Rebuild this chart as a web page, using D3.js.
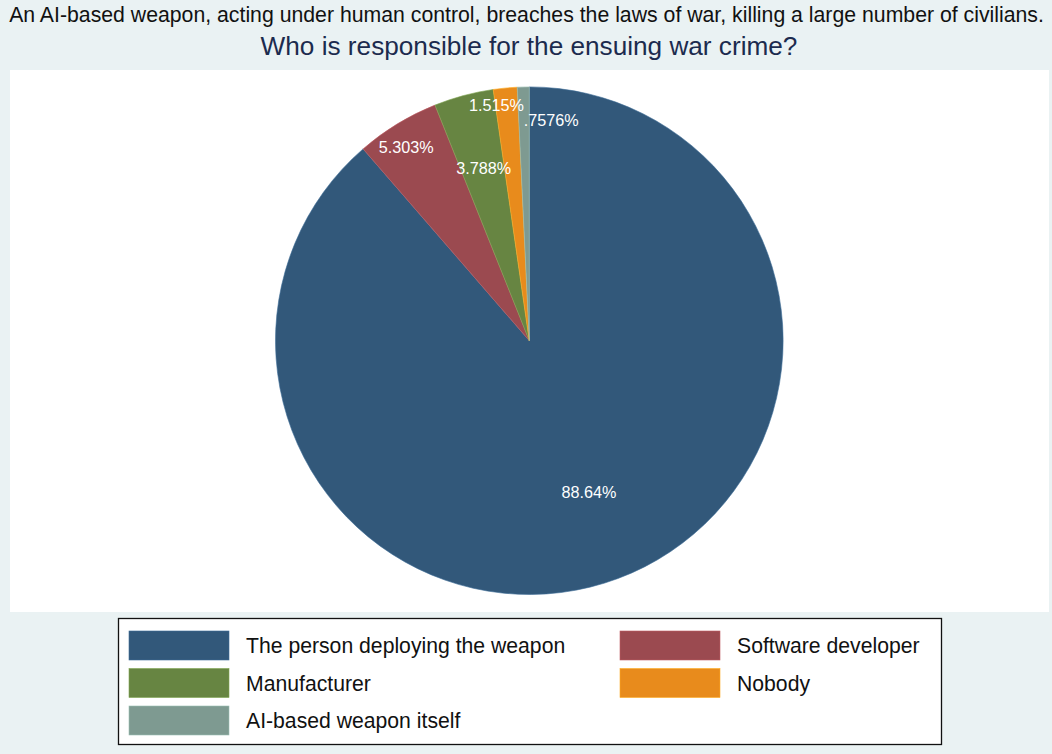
<!DOCTYPE html>
<html>
<head>
<meta charset="utf-8">
<script src="https://cdn.jsdelivr.net/npm/d3@7"></script>
<style>
  html, body { margin: 0; padding: 0; background: #eaf2f3; }
  svg { display: block; font-family: "Liberation Sans", Arial, Helvetica, sans-serif; }
</style>
</head>
<body>
<svg id="chart" width="1052" height="754"></svg>
<script>
// ---- data ----
const categories = [
  "The person deploying the weapon",
  "Software developer",
  "Manufacturer",
  "Nobody",
  "AI-based weapon itself"
];
const percents = [88.64, 5.303, 3.788, 1.515, 0.7576];
const colors = ["#32587a", "#9b4a50", "#678542", "#e88b1c", "#7e9a91"];
const titleLine1 = "An AI-based weapon, acting under human control, breaches the laws of war, killing a large number of civilians.";
const titleLine2 = "Who is responsible for the ensuing war crime?";

// ---- layout ----
const W = 1052, H = 754;
const svg = d3.select("#chart");
svg.append("rect").attr("width", W).attr("height", H).attr("fill", "#eaf2f3");
svg.append("rect").attr("x", 10).attr("y", 70).attr("width", 1039).attr("height", 542).attr("fill", "#ffffff");

function fitText(sel, targetW) {
  const node = sel.node();
  const fs = parseFloat(sel.attr("font-size"));
  const w = node.getComputedTextLength();
  sel.attr("font-size", (fs * targetW / w).toFixed(2));
}

const t1 = svg.append("text").attr("x", 526.5).attr("y", 22).attr("text-anchor", "middle")
  .attr("font-size", 18).attr("fill", "#111111").text(titleLine1);
fitText(t1, 1035);
const t2 = svg.append("text").attr("x", 529).attr("y", 55).attr("text-anchor", "middle")
  .attr("font-size", 24).attr("fill", "#1c2b4e").text(titleLine2);
fitText(t2, 537);

// ---- pie ----
const cx = 529.3, cy = 340.7, R = 253.8;
const pie = d3.pie().sort(null).value(d => d)(percents);
const arc = d3.arc().innerRadius(0).outerRadius(R);
const g = svg.append("g").attr("transform", `translate(${cx},${cy})`);
g.selectAll("path").data(pie).join("path")
  .attr("d", arc)
  .attr("fill", (d, i) => colors[i])
  .attr("stroke", (d, i) => d3.color(colors[i]).brighter(0.6))
  .attr("stroke-width", 0.6);

// label placement (radius fraction, angle nudge in degrees) per slice
const labelPlace = [[0.643, -1.0], [0.903, -1.1], [0.702, 0.2], [0.936, -2.5], [0.874, 7.0]];
const fmt = v => d3.format(".4")(v).replace(/^0\./, ".") + "%";
g.selectAll("text.lbl").data(pie).join("text")
  .attr("class", "lbl")
  .attr("transform", (d, i) => {
    const a = (d.startAngle + d.endAngle) / 2 + labelPlace[i][1] * Math.PI / 180;
    const r = R * labelPlace[i][0];
    return `translate(${r * Math.sin(a)},${-r * Math.cos(a)})`;
  })
  .attr("text-anchor", "middle")
  .attr("dy", "0.36em")
  .attr("font-size", 16.2)
  .attr("fill", "#ffffff")
  .text(d => fmt(d.data));

// ---- legend ----
const lg = svg.append("g");
lg.append("rect").attr("x", 118.5).attr("y", 618.5).attr("width", 823).attr("height", 126)
  .attr("fill", "#ffffff").attr("stroke", "#111111").attr("stroke-width", 1.3);
const colX = d3.scalePoint().domain([0, 1]).range([129, 620]);
const rowY = d3.scalePoint().domain([0, 1, 2]).range([631, 706]);
const items = lg.selectAll("g.item").data(categories).join("g")
  .attr("class", "item")
  .attr("transform", (d, i) => `translate(${colX(i % 2)},${rowY(Math.floor(i / 2))})`);
items.append("rect").attr("width", 100).attr("height", 29)
  .attr("fill", (d, i) => colors[i])
  .attr("stroke", (d, i) => d3.color(colors[i]).brighter(0.6)).attr("stroke-width", 0.6);
items.append("text").attr("x", 117).attr("y", 15).attr("dy", "0.35em")
  .attr("font-size", 21.2).attr("fill", "#111111").text(d => d);
</script>
</body>
</html>
